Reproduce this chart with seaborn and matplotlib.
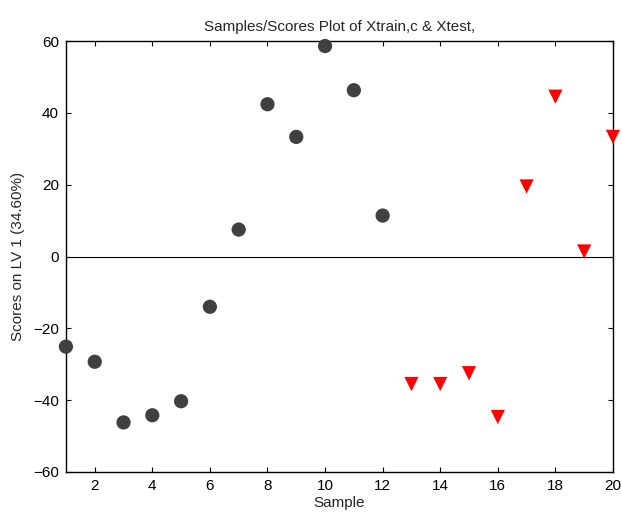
import matplotlib
matplotlib.use("Agg")
import matplotlib.pyplot as plt
import seaborn as sns
import pandas as pd

train_samples = [1, 2, 3, 4, 5, 6, 7, 8, 9, 10, 11, 12]
train_scores = [-25.1, -29.3, -46.2, -44.2, -40.3, -14.0, 7.5, 42.4, 33.3, 58.6, 46.3, 11.4]
test_samples = [13, 14, 15, 16, 17, 18, 19, 20]
test_scores = [-35.5, -35.5, -32.5, -44.7, 19.5, 44.5, 1.4, 33.3]
x_ticks = [2, 4, 6, 8, 10, 12, 14, 16, 18, 20]
y_ticks = [-60, -40, -20, 0, 20, 40, 60]

df = pd.DataFrame({
    "Sample": train_samples + test_samples,
    "Score": train_scores + test_scores,
    "Set": ["Xtrain,c"] * len(train_samples) + ["Xtest"] * len(test_samples),
})

sns.set_theme(style="ticks")
plt.rcParams["font.family"] = ["Liberation Sans", "DejaVu Sans"]

fig = plt.figure(figsize=(6.22, 5.16), dpi=100)
ax = fig.add_axes([0.106, 0.0853, 0.8795, 0.8352])

ax.axhline(0, color="black", lw=0.8, zorder=1)

sns.scatterplot(data=df, x="Sample", y="Score", hue="Set", style="Set",
                palette={"Xtrain,c": "#404040", "Xtest": "#ff0000"},
                markers={"Xtrain,c": "o", "Xtest": "v"},
                s=105, linewidth=0, legend=False, ax=ax, clip_on=False, zorder=3)

ax.set_xlim(1, 20)
ax.set_ylim(-60, 60)
ax.set_xticks(x_ticks)
ax.set_yticks(y_ticks)
ax.tick_params(direction="in", length=3.5, width=0.8, top=True, right=True,
               labelsize=11, colors="black", pad=5)
for sp in ax.spines.values():
    sp.set_visible(True)
    sp.set_color("black")
    sp.set_linewidth(1.0)

ax.set_xlabel("Sample", fontsize=11, labelpad=2)
ax.set_ylabel("Scores on LV 1 (34.60%)", fontsize=11, labelpad=6)
ax.set_title("Samples/Scores Plot of Xtrain,c & Xtest,", fontsize=11, pad=7)

fig.savefig("out.png", dpi=100)
